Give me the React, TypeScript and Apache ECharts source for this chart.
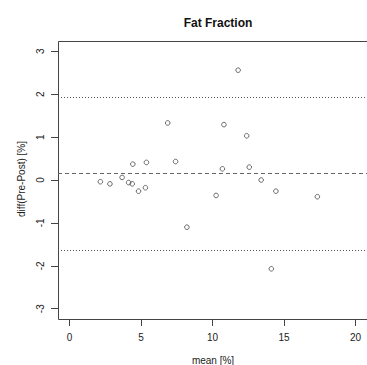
import React, { useEffect, useRef } from "react";
import * as echarts from "echarts";

const meanValues = [2.16, 2.83, 3.68, 4.14, 4.39, 4.43, 4.83, 5.31, 5.38, 6.87, 7.42, 8.21, 10.25, 10.69, 10.8, 11.79, 12.39, 12.57, 13.4, 14.11, 14.43, 17.33];
const diffValues = [-0.04, -0.09, 0.06, -0.06, -0.09, 0.37, -0.26, -0.18, 0.41, 1.33, 0.43, -1.1, -0.36, 0.26, 1.29, 2.56, 1.03, 0.3, 0.0, -2.07, -0.26, -0.39];
const meanDiff = 0.15;
const upperLoA = 1.92;
const lowerLoA = -1.63;
const xTicks = [0, 5, 10, 15, 20];
const yTicks = [-3, -2, -1, 0, 1, 2, 3];

const FONT = "'Liberation Sans', Arial, sans-serif";
const GRID = { left: 58, top: 41, width: 312, height: 278 };

export default function App() {
  const ref = useRef<HTMLDivElement>(null);
  useEffect(() => {
    if (!ref.current) return;
    const chart = echarts.init(ref.current, undefined, { renderer: "svg" });
    const points = meanValues.map((m, i) => [m, diffValues[i]]);
    chart.setOption({
      animation: false,
      backgroundColor: "#fff",
      title: {
        text: "Fat Fraction",
        left: 213,
        top: 12,
        textAlign: "center",
        textStyle: { fontFamily: FONT, fontSize: 12, fontWeight: "bold", color: "#111" },
      },
      grid: { ...GRID },
      xAxis: {
        type: "value",
        min: -0.8,
        max: 20.8,
        splitLine: { show: false },
        axisLine: { show: false, onZero: false },
        axisTick: { show: true, length: 7, customValues: xTicks, lineStyle: { color: "#444" } },
        axisLabel: {
          customValues: xTicks,
          margin: 13,
          fontFamily: FONT,
          fontSize: 10,
          color: "#222",
        },
      },
      yAxis: {
        type: "value",
        min: -3.24,
        max: 3.24,
        splitLine: { show: false },
        axisLine: { show: false, onZero: false },
        axisTick: { show: true, length: 7, customValues: yTicks, lineStyle: { color: "#444" } },
        axisLabel: {
          customValues: yTicks,
          rotate: 90,
          margin: 13,
          fontFamily: FONT,
          fontSize: 10,
          color: "#222",
        },
      },
      graphic: [
        {
          type: "rect",
          shape: { x: GRID.left + 0.5, y: GRID.top + 0.5, width: GRID.width, height: GRID.height },
          style: { fill: "none", stroke: "#444", lineWidth: 1 },
          silent: true,
        },
        {
          type: "text",
          x: 213,
          y: 360,
          style: { text: "mean [%]", align: "center", verticalAlign: "middle", fontFamily: FONT, fontSize: 10, fill: "#222" },
        },
        {
          type: "text",
          x: 21,
          y: 179,
          rotation: Math.PI / 2,
          style: { text: "diff(Pre-Post) [%]", align: "center", verticalAlign: "middle", fontFamily: FONT, fontSize: 10, fill: "#222" },
        },
      ],
      series: [
        {
          type: "scatter",
          data: points,
          symbol: "circle",
          symbolSize: 4.6,
          itemStyle: { color: "rgba(255,255,255,0)", borderColor: "#333", borderWidth: 0.9 },
          markLine: {
            silent: true,
            symbol: "none",
            label: { show: false },
            data: [
              { yAxis: upperLoA, lineStyle: { type: [1, 2], color: "#555", width: 1 } },
              { yAxis: meanDiff, lineStyle: { type: [4, 3], color: "#666", width: 1 } },
              { yAxis: lowerLoA, lineStyle: { type: [1, 2], color: "#555", width: 1 } },
            ],
          },
        },
      ],
    });
    return () => chart.dispose();
  }, []);
  return (
    <div
      ref={ref}
      style={{ position: "fixed", left: 0, top: 0, width: 367, height: 365 }}
    />
  );
}
